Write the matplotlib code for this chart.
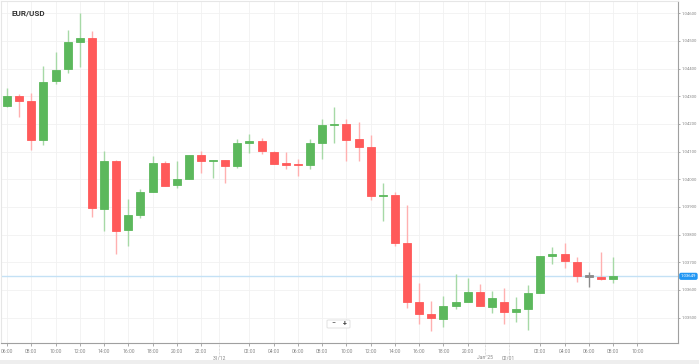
import matplotlib.pyplot as plt
import matplotlib.transforms as mtransforms
from matplotlib.patches import FancyBboxPatch, Rectangle

# hourly EUR/USD candles, 30/12 06:00 .. 02/01 08:00
opens = [1.04265, 1.04302, 1.04282, 1.04141, 1.04354, 1.04398, 1.04495, 1.04510, 1.03893, 1.04066,
         1.03816, 1.03871, 1.03954, 1.04058, 1.03978, 1.04000, 1.04088, 1.04065, 1.04070, 1.04049,
         1.04132, 1.04138, 1.04100, 1.04058, 1.04055, 1.04050, 1.04132, 1.04197, 1.04199, 1.04145,
         1.04118, 1.03940, 1.03943, 1.03769, 1.03557, 1.03513, 1.03494, 1.03540, 1.03557, 1.03594,
         1.03537, 1.03557, 1.03519, 1.03531, 1.03590, 1.03723, 1.03730, 1.03702, 1.03648, 1.03648,
         1.03639]
closes = [1.04302, 1.04284, 1.04141, 1.04353, 1.04396, 1.04495, 1.04510, 1.03895, 1.04067, 1.03814,
          1.03871, 1.03953, 1.04058, 1.03977, 1.04001, 1.04087, 1.04067, 1.04070, 1.04049, 1.04132,
          1.04138, 1.04102, 1.04055, 1.04052, 1.04052, 1.04130, 1.04196, 1.04201, 1.04142, 1.04116,
          1.03941, 1.03943, 1.03769, 1.03557, 1.03513, 1.03499, 1.03540, 1.03557, 1.03594, 1.03540,
          1.03572, 1.03519, 1.03531, 1.03588, 1.03722, 1.03729, 1.03705, 1.03651, 1.03648, 1.03639,
          1.03649]
highs = [1.04329, 1.04307, 1.04311, 1.04410, 1.04458, 1.04540, 1.04600, 1.04534, 1.04103, 1.04070,
         1.03930, 1.03966, 1.04084, 1.04067, 1.04067, 1.04087, 1.04103, 1.04070, 1.04070, 1.04145,
         1.04164, 1.04148, 1.04103, 1.04098, 1.04072, 1.04145, 1.04217, 1.04260, 1.04217, 1.04206,
         1.04158, 1.03986, 1.03955, 1.03905, 1.03624, 1.03560, 1.03578, 1.03657, 1.03642, 1.03621,
         1.03597, 1.03607, 1.03576, 1.03618, 1.03722, 1.03756, 1.03769, 1.03718, 1.03663, 1.03737,
         1.03720]
lows = [1.04262, 1.04224, 1.04107, 1.04124, 1.04343, 1.04383, 1.04407, 1.03865, 1.03813, 1.03729,
        1.03760, 1.03859, 1.03954, 1.03977, 1.03968, 1.04000, 1.04024, 1.04004, 1.03986, 1.04040,
        1.04094, 1.04090, 1.04055, 1.04036, 1.04012, 1.04037, 1.04073, 1.04130, 1.04066, 1.04067,
        1.03925, 1.03849, 1.03760, 1.03536, 1.03477, 1.03453, 1.03465, 1.03530, 1.03557, 1.03540,
        1.03518, 1.03476, 1.03485, 1.03455, 1.03590, 1.03693, 1.03678, 1.03630, 1.03610, 1.03636,
        1.03626]

current_price = 1.03649

time_ticks = [0, 2, 4, 6, 8, 10, 12, 14, 16, 20, 22, 24, 26, 28, 30, 32, 34, 36, 38, 44, 46, 48, 50, 52]
time_labels = ['06:00', '08:00', '10:00', '12:00', '14:00', '16:00', '18:00', '20:00', '22:00',
               '02:00', '04:00', '06:00', '08:00', '10:00', '12:00', '14:00', '16:00', '18:00',
               '20:00', '02:00', '04:00', '06:00', '08:00', '10:00']
day_ticks = [17.5, 39.4, 41.4]
day_labels = ['31/12', "Jan '25", '02/01']

price_ticks = [1.035, 1.036, 1.037, 1.038, 1.039, 1.040, 1.041, 1.042, 1.043, 1.044, 1.045, 1.046]

GREEN = '#5cb85c'
RED = '#ff5a5a'
plt.rcParams['font.family'] = ['Roboto', 'DejaVu Sans']

fig = plt.figure(figsize=(6.99, 3.64), dpi=100)
ax = fig.add_axes([0.0015, 0.0577, 0.9685, 0.9396])

for i in range(len(opens)):
    o, c, h, l = opens[i], closes[i], highs[i], lows[i]
    if c > o:
        col, wick = GREEN, '#a6d9a6'
    elif c < o:
        col, wick = RED, '#ffb0b0'
    else:
        col, wick = '#8a8a8a', '#8a8a8a'
    ax.vlines(i, l, h, color=wick, linewidth=1.0, zorder=2)
    body = max(abs(c - o), 0.00004)
    ax.bar(i, body, width=0.66, bottom=min(o, c), color=col,
           edgecolor=col, linewidth=0.6, zorder=3)

ax.axhline(current_price, color='#c4e1f5', linewidth=1.0, zorder=1)

ax.set_xlim(-0.5, 55.36)
ax.set_ylim(1.03408, 1.04644)

ax.yaxis.tick_right()
ax.set_yticks(price_ticks)
ax.set_yticklabels(['%.5f' % p for p in price_ticks])
ax.tick_params(axis='y', labelsize=3.1, colors='#888888', length=1.5, width=0.5, pad=1)

ax.set_xticks(time_ticks)
ax.set_xticklabels(time_labels)
ax.set_xticks(day_ticks, minor=True)
ax.set_xticklabels(day_labels, minor=True)
ax.tick_params(axis='x', which='major', labelsize=3.6, colors='#888888', length=2, width=0.5, pad=2.5)
ax.tick_params(axis='x', which='minor', labelsize=3.6, colors='#888888', length=0, pad=9)

ax.grid(True, which='both', color='#f1f1f1', linewidth=0.6, zorder=0)
ax.set_axisbelow(True)

for s in ['left', 'top']:
    ax.spines[s].set_color('#e6e6e6')
    ax.spines[s].set_linewidth(0.8)
for s in ['right', 'bottom']:
    ax.spines[s].set_color('#a0a0a0')
    ax.spines[s].set_linewidth(0.8)

# dashed separators under day labels
trans = mtransforms.blended_transform_factory(ax.transData, ax.transAxes)
for d in day_ticks:
    ax.plot([d, d], [0, -0.04], color='#bbbbbb', linewidth=0.5, linestyle=(0, (1, 1)),
            transform=trans, clip_on=False)

ax.text(0.015, 0.965, 'EUR/USD', transform=ax.transAxes, fontsize=5.8, fontweight='bold',
        color='#333333', ha='left', va='center')

# current price tag
ptrans = mtransforms.blended_transform_factory(ax.transAxes, ax.transData)
ax.text(1.004, current_price, '%.5f' % current_price, transform=ptrans, fontsize=3.1,
        color='white', ha='left', va='center',
        bbox=dict(boxstyle='round,pad=0.2,rounding_size=0.3', fc='#2196f3', ec='#2196f3'))

# zoom buttons
fig.patches.append(FancyBboxPatch((327 / 699, 1 - 328 / 364), 23 / 699, 8 / 364,
                                  boxstyle='round,pad=0,rounding_size=0.002',
                                  transform=fig.transFigure, fc='white', ec='#dddddd',
                                  linewidth=0.6, zorder=5))
fig.text(333 / 699, 1 - 324 / 364, '\u2212', fontsize=5, color='#444444', ha='center', va='center', zorder=6)
fig.text(344.5 / 699, 1 - 324 / 364, '+', fontsize=5, color='#444444', ha='center', va='center',
         fontweight='bold', zorder=6)

fig.patches.append(Rectangle((0, 0), 1, 4 / 364, transform=fig.transFigure,
                             fc='#eeeeee', ec='none', zorder=0))

fig.savefig('out.png', dpi=100)
